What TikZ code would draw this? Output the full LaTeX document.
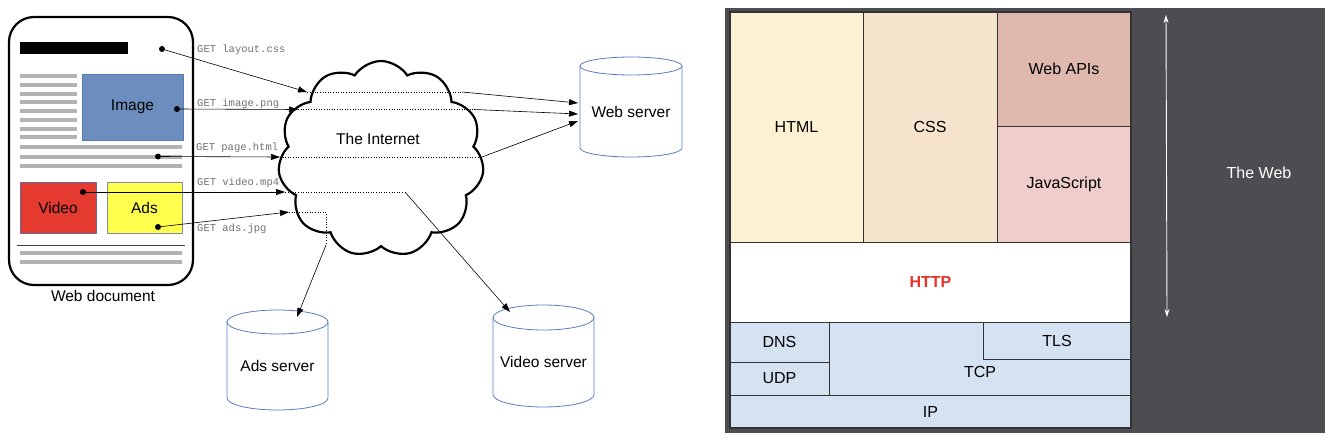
\documentclass[tikz,border=0pt]{standalone}
\usepackage{fontspec}
\setmainfont{Liberation Sans}
\newfontfamily\monof{Liberation Mono}
\usetikzlibrary{arrows.meta,shapes.symbols}
\definecolor{imgblue}{HTML}{6C8EBF}
\definecolor{imgborder}{HTML}{5A7AB0}
\definecolor{vidred}{HTML}{E53A30}
\definecolor{vidborder}{HTML}{5D6D9E}
\definecolor{adsyellow}{HTML}{FFFF4D}
\definecolor{adsborder}{HTML}{7F8AA8}
\definecolor{lgray}{HTML}{B3B3B3}
\definecolor{cylblue}{HTML}{5B7BC0}
\definecolor{labgray}{HTML}{707070}
\definecolor{darkbg}{HTML}{4C4C51}
\definecolor{htmlc}{HTML}{FCF1D0}
\definecolor{cssc}{HTML}{F7E4CF}
\definecolor{apic}{HTML}{DFB8AE}
\definecolor{jsc}{HTML}{EECDCB}
\definecolor{netc}{HTML}{D4E2F1}
\definecolor{bordc}{HTML}{333333}
\definecolor{httpred}{HTML}{E5332A}
\tikzset{
  cell/.style={draw=bordc, line width=0.9pt, inner sep=0pt, outer sep=0pt, anchor=north west, font=\fontsize{16}{18}\selectfont},
  doc/.style={inner sep=0pt, outer sep=0pt, anchor=north west, font=\fontsize{15.5}{17}\selectfont},
  dotn/.style={circle, fill=black, inner sep=0pt, minimum size=6pt},
  req/.style={draw=black, line width=0.6pt, -{Triangle[length=9pt,width=6pt]}},
  thru/.style={draw=black, line width=0.6pt, dotted},
  getlab/.style={anchor=west, inner sep=0pt, text=labgray, font=\monof\fontsize{10.5}{12}\selectfont},
  grayln/.style={draw=lgray, line width=4pt},
  cylbox/.style={inner sep=0pt, outer sep=0pt, anchor=north west, font=\fontsize{15.5}{17}\selectfont},
  cylline/.style={draw=cylblue, line width=0.8pt},
  lbl/.style={inner sep=0pt, font=\fontsize{15.5}{17}\selectfont},
}
\newcommand\mycyl[7]{%
  \node[cylbox, minimum width=#3-#2, minimum height=#5-#4] (#1) at (#2,#4) {};
  \node[lbl] (#1-text) at ({(#2+#3)/2}, {(#4+#5)/2+#6/2}) {#7};
  \draw[cylline] ({(#2+#3)/2},#4+#6) ellipse [x radius={(#3-#2)/2}, y radius=#6];
  \draw[cylline] (#2,#4+#6) -- (#2,#5-#6) arc[start angle=180, end angle=0, x radius={(#3-#2)/2}, y radius=#6] -- (#3,#4+#6);
}
\begin{document}
\begin{tikzpicture}[x=1pt,y=-1pt]
\useasboundingbox (0,0) rectangle (1332,439);

% ---------------- Left: web document ----------------
\draw[line width=2.2pt, rounded corners=25pt] (9,17) rectangle (193,285);
\node[inner sep=0pt, outer sep=0pt, fill=black, anchor=north west, minimum width=108pt, minimum height=12pt] (bar) at (20,42) {};
\foreach \i in {0,...,7} { \draw[grayln] (20,{76+8.75*\i}) -- (77,{76+8.75*\i}); }
\node[doc, fill=imgblue, draw=imgborder, line width=0.8pt, minimum width=101pt, minimum height=66pt] (image) at (82,74) {Image};
\foreach \y in {147,156.5,166} { \draw[grayln] (20,\y) -- (182,\y); }
\node[doc, fill=vidred, draw=vidborder, line width=0.8pt, minimum width=76pt, minimum height=51pt] (video) at (20,182) {Video};
\node[doc, fill=adsyellow, draw=adsborder, line width=0.8pt, minimum width=75pt, minimum height=51pt] (ads) at (107,182) {Ads};
\draw[line width=1pt, draw=black!75] (17,245) -- (185,245);
\foreach \y in {253,262} { \draw[grayln] (20,\y) -- (182,\y); }
\node[lbl] (doclabel) at (103,296) {Web document};

% dots
\node[dotn] (dcss) at (162,49) {};
\node[dotn] (dimg) at (177,109) {};
\node[dotn] (dpage) at (158,156.5) {};
\node[dotn] (dvid) at (83,192) {};
\node[dotn] (dads) at (158,227) {};

% ---------------- Cloud ----------------
\node[cloud, cloud puffs=11, cloud puff arc=115, cloud ignores aspect, draw, line width=2.2pt,
      minimum width=206pt, minimum height=196pt, inner sep=0pt] (internet) at (381,159) {};
\node[lbl] (inettext) at (378,139) {The Internet};

% ---------------- Servers ----------------
\mycyl{websrv}{580}{682}{57}{157}{9}{Web server}
\mycyl{adssrv}{227}{328}{310}{410}{12}{Ads server}
\mycyl{vidsrv}{493}{594}{305}{407}{12.5}{Video server}

% ---------------- Requests ----------------
\coordinate (cssIn) at (307,92);   \coordinate (cssOut) at (462,92);
\coordinate (imgIn) at (298,109.5);  \coordinate (imgOut) at (474,109.5);
\coordinate (pageIn) at (280,157); \coordinate (pageOut) at (482,157);
\coordinate (vidIn) at (285,192);  \coordinate (vidOut) at (405,192);
\coordinate (adsIn) at (289,212);  \coordinate (adsTurn) at (326,212); \coordinate (adsOut) at (326,245);
\coordinate (wsA) at (578,103); \coordinate (wsB) at (578,114); \coordinate (wsC) at (578,121);
\coordinate (vsTop) at (510,312);
\coordinate (asTop) at (297,317);

\draw[req] (dcss) -- (cssIn);
\draw[thru] (cssIn) -- (cssOut);
\draw[req] (cssOut) -- (wsA);

\draw[req] (dimg) -- (imgIn);
\draw[thru] (imgIn) -- (imgOut);
\draw[req] (imgOut) -- (wsB);

\draw[req] (dpage) -- (pageIn);
\draw[thru] (pageIn) -- (pageOut);
\draw[req] (pageOut) -- (wsC);

\draw[req] (dvid) -- (vidIn);
\draw[thru] (vidIn) -- (vidOut);
\draw[req] (vidOut) -- (vsTop);

\draw[req] (dads) -- (adsIn);
\draw[thru] (adsIn) -- (adsTurn) -- (adsOut);
\draw[req] (adsOut) -- (asTop);

\node[getlab] (lcss) at (197,50) {GET layout.css};
\node[getlab] (limg) at (197,104) {GET image.png};
\node[getlab] (lpage) at (196,148) {GET page.html};
\node[getlab] (lvid) at (197,183) {GET video.mp4};
\node[getlab] (lads) at (197,229) {GET ads.jpg};

% ---------------- Right: web stack ----------------
\fill[darkbg] (725,8) rectangle (1325,433);
\node[cell, fill=htmlc, minimum width=133pt, minimum height=230pt] (html) at (730,12) {HTML};
\node[cell, fill=cssc, minimum width=134pt, minimum height=230pt] (css) at (863,12) {CSS};
\node[cell, fill=apic, minimum width=134pt, minimum height=114pt] (webapi) at (997,12) {Web APIs};
\node[cell, fill=jsc, minimum width=134pt, minimum height=116pt] (js) at (997,126) {JavaScript};
\node[cell, fill=white, minimum width=401pt, minimum height=80pt, text=httpred, font=\bfseries\fontsize{16}{18}\selectfont] (http) at (730,242) {HTTP};
\node[cell, fill=netc, minimum width=99pt, minimum height=40pt] (dns) at (730,322) {DNS};
\node[cell, fill=netc, minimum width=99pt, minimum height=33pt] (udp) at (730,362) {UDP};
\node[cell, fill=netc, minimum width=302pt, minimum height=73pt] (tcp) at (829,322) {};
\node[cell, fill=netc, minimum width=148pt, minimum height=37pt] (tls) at (983,322) {TLS};
\node[lbl, font=\fontsize{16}{18}\selectfont] (tcptext) at (980,372) {TCP};
\node[cell, fill=netc, minimum width=401pt, minimum height=33pt] (ip) at (730,395) {IP};
\draw[bordc, line width=1.2pt] (730,12) rectangle (1131,428);

\coordinate (webTop) at (1166,15);
\coordinate (webBot) at (1167,317);
\draw[white, line width=0.9pt, {Stealth[length=8pt,width=5pt]}-{Stealth[length=8pt,width=5pt]}] (webTop) -- (webBot);
\node[lbl, text=white, font=\fontsize{16}{18}\selectfont] (theweb) at (1259,173) {The Web};
\end{tikzpicture}
\end{document}
